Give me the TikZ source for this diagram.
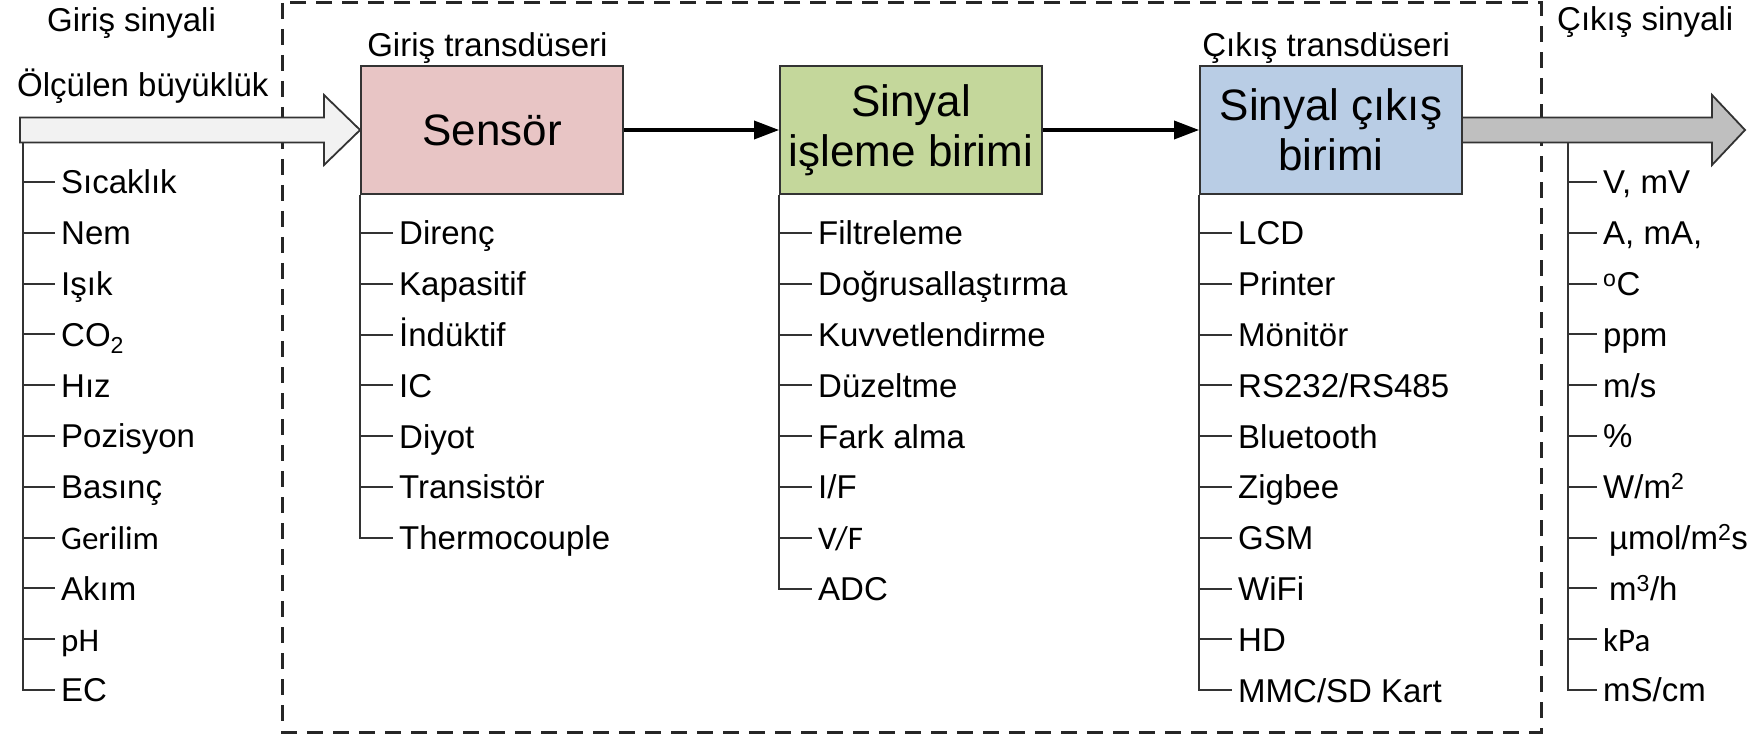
\documentclass[tikz,border=0pt]{standalone}
\usepackage{fontspec}
\setmainfont{Liberation Sans}
\newfontfamily\calfont{Carlito}
\usetikzlibrary{arrows.meta,calc}
\definecolor{sensorpink}{HTML}{E8C5C5}
\definecolor{procgreen}{HTML}{C4D79B}
\definecolor{outblue}{HTML}{B9CDE5}
\begin{document}
\begin{tikzpicture}[x=1pt,y=-1pt,
  box/.style={draw=black!80, line width=1.8pt, minimum width=262pt, minimum height=128pt,
    inner sep=0pt, align=center, font=\fontsize{44}{50}\selectfont},
  item/.style={anchor=west, inner xsep=6pt, inner ysep=0pt, text height=23.6pt, text depth=0pt,
    font=\fontsize{33}{40}\selectfont},
  lbl/.style={anchor=base west, inner sep=0pt, font=\fontsize{33}{40}\selectfont},
  tree/.style={draw=black!80, line width=2pt},
  flow/.style={line width=3.5pt, -{Triangle[length=25pt,width=18pt]}},
  frame/.style={line width=3pt, draw=black!85, dash pattern=on 16pt off 10pt},
  bigarrow/.style={draw=black!80, line width=1.8pt, line join=miter}
]
\useasboundingbox (0,0) rectangle (1747,735);

% dashed frame
\draw[frame] (282,3) rectangle (1541,732);

% boxes
\node[box, fill=sensorpink] (sensor) at (492,130) {Sensör};
\node[box, fill=procgreen] (proc) at (911,130) {Sinyal\\işleme birimi};

% output arrow (behind output box)
\draw[bigarrow, fill=black!25] ($(1331,130)+(131,-12.5)$) -- (1712,117.5) -- (1712,95) -- (1745,130)
  -- (1712,165) -- (1712,142.5) -- ($(1331,130)+(131,12.5)$) -- cycle;
\node[box, fill=outblue] (outb) at (1331,130) {Sinyal çıkış\\birimi};

% input arrow
\draw[bigarrow, fill=black!5] (20,117.5) -- (324,117.5) -- (324,95) -- (sensor.west)
  -- (324,165) -- (324,142.5) -- (20,142.5) -- cycle;

% flow arrows
\draw[flow] (sensor) -- (proc);
\draw[flow] (proc) -- (outb);

% labels
\node[lbl] (gs) at (47,32) {Giriş sinyali};
\node[lbl] (ob) at (17,97) {Ölçülen büyüklük};
\node[lbl] (cs) at (1557,31) {Çıkış sinyali};
\node[lbl] (gt) at ($(sensor.north west)+(7,-9)$) {Giriş transdüseri};
\node[lbl] (ct) at ($(outb.north west)+(3,-9)$) {Çıkış transdüseri};

% left list
\coordinate (inL) at (23,142.5);
\foreach [count=\i from 0] \t in {Sıcaklık, Nem, Işık, CO\textsubscript{2}, Hız, Pozisyon, Basınç,
  {\calfont Gerilim}, Akım, {\calfont pH}, EC}
  \node[item] (L\i) at (55,182+50.8*\i) {\t};
\draw[tree] (inL) |- (L10.west);
\foreach \i in {0,...,9} \draw[tree] (inL |- L\i.west) -- (L\i.west);

% sensor list
\foreach [count=\i from 0] \t in {Direnç, Kapasitif, İndüktif, IC, Diyot, Transistör, Thermocouple}
  \node[item] (S\i) at (393,233+50.8*\i) {\t};
\draw[tree] (sensor.south west) |- (S6.west);
\foreach \i in {0,...,5} \draw[tree] (sensor.south west |- S\i.west) -- (S\i.west);

% processing list
\foreach [count=\i from 0] \t in {Filtreleme, Doğrusallaştırma, Kuvvetlendirme, Düzeltme, Fark alma,
  I/F, {\calfont V/F}, ADC}
  \node[item] (P\i) at (812,233+50.8*\i) {\t};
\draw[tree] (proc.south west) |- (P7.west);
\foreach \i in {0,...,6} \draw[tree] (proc.south west |- P\i.west) -- (P\i.west);

% output device list
\foreach [count=\i from 0] \t in {LCD, Printer, Mönitör, RS232/RS485, Bluetooth, Zigbee, GSM, WiFi, HD,
  MMC/SD Kart}
  \node[item] (D\i) at (1232,233+50.8*\i) {\t};
\draw[tree] (outb.south west) |- (D9.west);
\foreach \i in {0,...,8} \draw[tree] (outb.south west |- D\i.west) -- (D\i.west);

% output signal list
\coordinate (outR) at (1568,142.5);
\foreach [count=\i from 0] \t in {{V, mV}, {A, mA,}, \textsuperscript{o}C, ppm, m/s, \%, W/m\textsuperscript{2},
  \hspace{6pt}µmol/m\textsuperscript{2}s, \hspace{6pt}m\textsuperscript{3}/h, {\calfont kPa}, mS/cm}
  \node[item] (R\i) at (1597,182+50.8*\i) {\t};
\draw[tree] (outR) |- (R10.west);
\foreach \i in {0,...,9} \draw[tree] (outR |- R\i.west) -- (R\i.west);
\end{tikzpicture}
\end{document}
